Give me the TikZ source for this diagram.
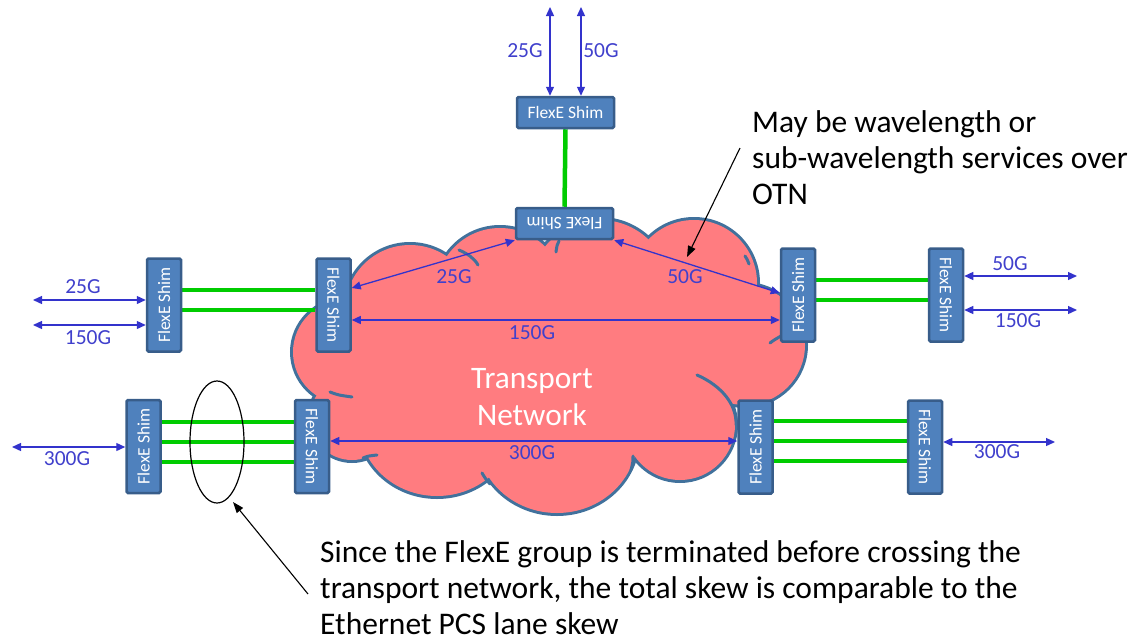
\documentclass[tikz,border=0pt]{standalone}
\usepackage{fontspec}
\setmainfont{Carlito}
\usepackage{graphicx}
\usetikzlibrary{arrows.meta,shapes.geometric}
\definecolor{cloudfill}{HTML}{FF7C80}
\definecolor{cloudline}{HTML}{41719C}
\definecolor{shimfill}{HTML}{4F81BD}
\definecolor{shimline}{HTML}{385D8A}
\definecolor{lanegreen}{HTML}{00CC00}
\definecolor{arrowblue}{HTML}{3333CC}
\definecolor{labelblue}{HTML}{4040CC}
\pgfdeclarelayer{bg}
\pgfsetlayers{bg,main}
\newcommand\shimfont{\fontsize{17.5}{20}\selectfont}
\newcommand\ratefont{\fontsize{21.5}{25}\selectfont}
\newcommand\notefont{\fontsize{31.5}{36}\selectfont}
\newcommand\cloudtextfont{\fontsize{31.3}{37}\selectfont}
\begin{document}
\begin{tikzpicture}[x=1pt,y=-1pt,
  shimbox/.style={rectangle, draw=shimline, fill=shimfill, line width=2.5pt, rounded corners=1.5pt, text=white, font=\shimfont, inner sep=0pt},
  vshim/.style={shimbox, minimum width=34pt, minimum height=93pt},
  hshim/.style={shimbox, minimum width=97pt, minimum height=31pt},
  lane/.style={draw=lanegreen, line width=4.5pt},
  dbl/.style={draw=arrowblue, line width=1.3pt, {Triangle[length=9pt,width=8pt]}-{Triangle[length=9pt,width=8pt]}},
  rate/.style={text=labelblue, font=\ratefont, inner sep=0pt},
  pointer/.style={draw=black, line width=1.1pt, -{Triangle[length=11pt,width=8pt]}},
  note/.style={font=\notefont, align=left, inner sep=0pt, text=black},
  cloudedge/.style={draw=cloudline, line width=3pt, line cap=round}
]
\useasboundingbox (0,0) rectangle (1136,643);

% ---------- shims ----------
\node[hshim] (topS) at (565.5,112.5) {FlexE Shim};
\node[hshim] (topS2) at (564.5,223.5) {\rotatebox{180}{FlexE Shim}};
\node[vshim] (LT1) at (164,305) {\rotatebox{90}{FlexE Shim}};
\node[vshim] (LT2) at (333.5,305) {\rotatebox{-90}{FlexE Shim}};
\node[vshim] (LB1) at (143.5,446.5) {\rotatebox{90}{FlexE Shim}};
\node[vshim] (LB2) at (312,446.5) {\rotatebox{-90}{FlexE Shim}};
\node[vshim] (RT1) at (798,295) {\rotatebox{90}{FlexE Shim}};
\node[vshim] (RT2) at (946,295) {\rotatebox{-90}{FlexE Shim}};
\node[vshim] (RB1) at (755.5,447) {\rotatebox{90}{FlexE Shim}};
\node[vshim] (RB2) at (925,447) {\rotatebox{-90}{FlexE Shim}};

% ---------- cloud and lanes (background) ----------
\begin{pgfonlayer}{bg}
\foreach \cx/\cy/\rx/\ry in {410/310/65/65, 345/352/52/52, 352/418/42/42, 437/423/78/73, 557/438/80/75, 680/425/55/55, 745/345/60/60, 694/283/63/63, 600/290/70/70, 500/292/64/64}
  {\draw[draw=cloudline, line width=6pt, fill=cloudfill] (\cx,\cy) ellipse [x radius=\rx pt, y radius=\ry pt];}
\foreach \cx/\cy/\rx/\ry in {410/310/65/65, 345/352/52/52, 352/418/42/42, 437/423/78/73, 557/438/80/75, 680/425/55/55, 745/345/60/60, 694/283/63/63, 600/290/70/70, 500/292/64/64, 550/370/190/95}
  {\fill[cloudfill] (\cx,\cy) ellipse [x radius=\rx pt, y radius=\ry pt];}
\draw[cloudedge] (459,250) .. controls (468,254) and (474,258) .. (478,265);
\draw[cloudedge] (559,241) .. controls (557,245) .. (556,252);
\draw[cloudedge] (745,256) .. controls (747,259) .. (749,264);
\draw[cloudedge] (770,343) .. controls (774,340) .. (781,336);
\draw[cloudedge] (697,375) .. controls (722,386) and (737,405) .. (736,425);
\draw[cloudedge] (330,392) .. controls (338,395) .. (352,397);
\draw[cloudedge] (363,458) .. controls (368,456) .. (377,455);
\draw[cloudedge] (482,473) .. controls (485,478) .. (490,484);
\draw[cloudedge] (633,456) .. controls (633,462) .. (631,470);

\draw[lane] (topS.south) -- (topS2.north);
\draw[lane] ([yshift=15pt]LT1.east) -- ([yshift=15pt]LT2.west);
\draw[lane] ([yshift=-5pt]LT1.east) -- ([yshift=-5pt]LT2.west);
\draw[lane] ([yshift=24.5pt]LB1.east) -- ([yshift=24.5pt]LB2.west);
\draw[lane] ([yshift=4.5pt]LB1.east) -- ([yshift=4.5pt]LB2.west);
\draw[lane] ([yshift=-15.5pt]LB1.east) -- ([yshift=-15.5pt]LB2.west);
\draw[lane] ([yshift=15pt]RT1.east) -- ([yshift=15pt]RT2.west);
\draw[lane] ([yshift=-5pt]RT1.east) -- ([yshift=-5pt]RT2.west);
\draw[lane] ([yshift=26pt]RB1.east) -- ([yshift=26pt]RB2.west);
\draw[lane] ([yshift=6pt]RB1.east) -- ([yshift=6pt]RB2.west);
\draw[lane] ([yshift=-14pt]RB1.east) -- ([yshift=-14pt]RB2.west);
\end{pgfonlayer}

% ---------- cloud text ----------
\node[text=white, font=\cloudtextfont, align=center, inner sep=0pt] (tnet) at (532,397) {Transport\\Network};

% ---------- free ends ----------
\coordinate (eL25) at (33,300);
\coordinate (eL150) at (33,325);
\coordinate (eL300) at (12,447);
\coordinate (eR50) at (1077,276);
\coordinate (eR150) at (1077,310);
\coordinate (eR300) at (1055,442);
\coordinate (eT25) at (550,7);
\coordinate (eT50) at (581,7);

% ---------- service arrows ----------
\draw[dbl] (eL25) -- ([yshift=5pt]LT1.west);
\draw[dbl] (eL150) -- ([yshift=-20pt]LT1.west);
\draw[dbl] (eL300) -- ([yshift=-0.5pt]LB1.west);
\draw[dbl] ([yshift=19pt]RT2.east) -- (eR50);
\draw[dbl] ([yshift=-15pt]RT2.east) -- (eR150);
\draw[dbl] ([yshift=5pt]RB2.east) -- (eR300);
\draw[dbl] (eT25) -- ([xshift=-15.5pt]topS.north);
\draw[dbl] (eT50) -- ([xshift=15.5pt]topS.north);
\draw[dbl] ([yshift=17pt]LT2.east) -- (topS2.south west);
\draw[dbl] (topS2.south east) -- ([yshift=2pt]RT1.west);
\draw[dbl] ([yshift=-15pt]LT2.east) -- ([yshift=-25pt]RT1.west);
\draw[dbl] ([yshift=5.5pt]LB2.east) -- ([yshift=6pt]RB1.west);

% ---------- rate labels ----------
\node[rate] (lL25) at (83,287) {25G};
\node[rate] (lL150) at (88,338) {150G};
\node[rate] (lL300) at (67,459) {300G};
\node[rate] (lR50) at (1010,264) {50G};
\node[rate] (lR150) at (1018,321) {150G};
\node[rate] (lR300) at (997,452) {300G};
\node[rate] (lT25) at (525,51) {25G};
\node[rate] (lT50) at (601,51) {50G};
\node[rate] (lC25) at (454,277) {25G};
\node[rate] (lC50) at (685,277) {50G};
\node[rate] (lC150) at (532,333) {150G};
\node[rate] (lC300) at (532,453) {300G};

% ---------- group ellipse ----------
\node[ellipse, draw=black, line width=1.2pt, minimum width=54pt, minimum height=122pt, inner sep=0pt] (grp) at (217,442) {};

% ---------- notes (base anchor = last line) ----------
\node[note, anchor=base west] (otnNote) at (752,204) {May be wavelength or\\sub-wavelength services over\\OTN};
\node[note, anchor=base west] (skewNote) at (320,634) {Since the FlexE group is terminated before crossing the\\transport network, the total skew is comparable to the\\Ethernet PCS lane skew};

\coordinate (otnTail) at (740,148);
\coordinate (otnTip) at (687,257);
\coordinate (skewTail) at (308,594);
\coordinate (grpTip) at (233,502);
\draw[pointer] (otnTail) -- (otnTip);
\draw[pointer] (skewTail) -- (grpTip);
\end{tikzpicture}
\end{document}
